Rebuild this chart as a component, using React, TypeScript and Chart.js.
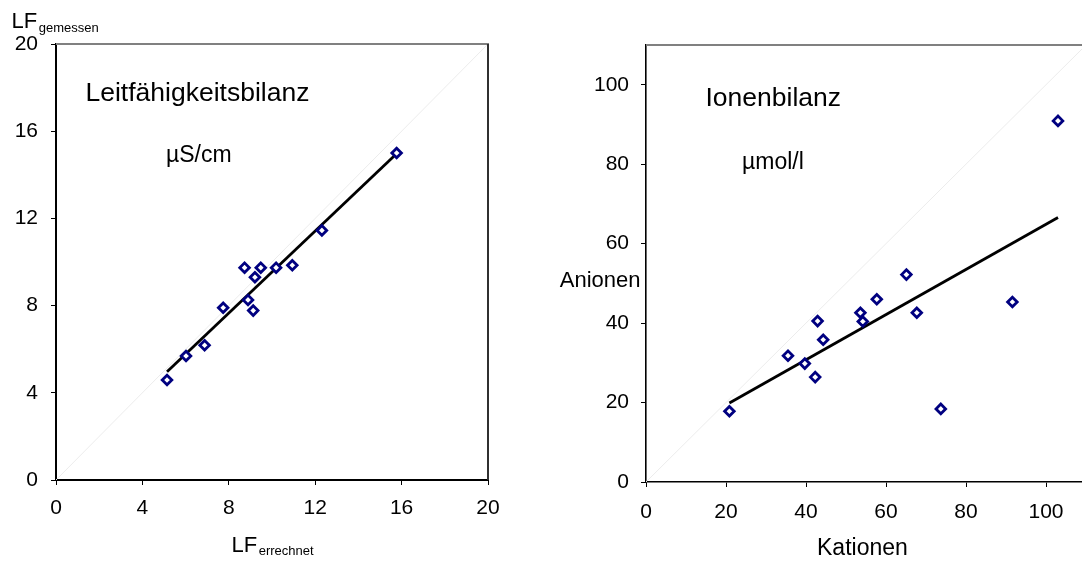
import React, { useEffect, useRef } from 'react';
import { Chart, registerables } from 'chart.js';

Chart.register(...registerables);

// ---- Left chart: Leitfähigkeitsbilanz (µS/cm) ----
const lfErrechnet = [5.14, 6.02, 6.88, 7.74, 8.89, 9.13, 9.21, 8.73, 9.48, 10.19, 10.94, 12.31, 15.77];
const lfGemessen = [4.59, 5.69, 6.18, 7.9, 8.26, 7.77, 9.3, 9.74, 9.74, 9.74, 9.85, 11.45, 15.0];
const lfTrendX = [5.14, 15.74];
const lfTrendY = [4.97, 14.94];
const lfDiagonal = [0, 20];

// ---- Right chart: Ionenbilanz (µmol/l) ----
const kationen = [20.85, 35.5, 39.7, 42.3, 42.9, 44.3, 53.6, 54.2, 57.7, 65.1, 67.7, 73.7, 91.6, 103.0];
const anionen = [17.8, 31.8, 29.8, 26.4, 40.5, 35.8, 42.6, 40.4, 46.0, 52.2, 42.6, 18.4, 45.3, 90.9];
const ionTrendX = [20.85, 103.0];
const ionTrendY = [19.9, 66.6];
const ionDiagonal = [0, 110];

const FONT = "'Liberation Sans', Arial, sans-serif";
const NAVY = '#000080';

type TextItem = {
  text: string;
  sub?: string;
  x: number;
  y: number;
  size: number;
  subSize?: number;
  subDy?: number;
  align?: CanvasTextAlign;
};

const toPts = (xs: number[], ys: number[]) => xs.map((x, i) => ({ x, y: ys[i] }));

function makeDecor(id: string, items: TextItem[], rightBorder: boolean) {
  return {
    id,
    afterDraw(chart: any) {
      const { ctx, chartArea: a } = chart;
      ctx.save();
      ctx.strokeStyle = '#808080';
      ctx.lineWidth = 2;
      ctx.beginPath();
      ctx.moveTo(a.left, a.top);
      ctx.lineTo(a.right + (rightBorder ? 1 : 0), a.top);
      ctx.stroke();
      if (rightBorder) {
        ctx.strokeStyle = '#303030';
        ctx.beginPath();
        ctx.moveTo(a.right, a.top);
        ctx.lineTo(a.right, a.bottom);
        ctx.stroke();
      }
      ctx.fillStyle = '#000';
      ctx.textBaseline = 'alphabetic';
      for (const it of items) {
        ctx.font = `${it.size}px ${FONT}`;
        ctx.textAlign = it.align || 'left';
        ctx.fillText(it.text, it.x, it.y);
        if (it.sub) {
          const w = ctx.measureText(it.text).width;
          ctx.font = `${it.subSize || 13}px ${FONT}`;
          ctx.textAlign = 'left';
          ctx.fillText(it.sub, it.x + w + 1.5, it.y + (it.subDy ?? 3));
        }
      }
      ctx.restore();
    },
  };
}

function axisCommon(min: number, max: number, step: number, fix: (s: any) => void, lineW: number, pad: number) {
  return {
    type: 'linear' as const,
    min,
    max,
    afterFit: fix,
    grid: {
      display: true,
      drawOnChartArea: false,
      drawTicks: true,
      tickLength: 5,
      color: '#000',
      lineWidth: 1,
    },
    border: { display: true, color: '#000', width: lineW },
    ticks: {
      stepSize: step,
      includeBounds: false,
      color: '#000',
      font: { family: FONT, size: 21 },
      padding: pad,
      maxRotation: 0,
    },
  };
}

function buildConfig(opts: {
  pts: { x: number; y: number }[];
  trend: { x: number; y: number }[];
  diag: { x: number; y: number }[];
  xMax: number;
  yMax: number;
  xStep: number;
  yStep: number;
  yAxisWidth: number;
  xAxisHeight: number;
  padding: { top: number; right: number; left: number; bottom: number };
  decor: any;
  lineW: number;
  yPad: number;
  xPad: number;
}): any {
  return {
    type: 'scatter',
    data: {
      datasets: [
        {
          data: opts.pts,
          pointStyle: 'rectRot',
          pointRadius: 4.8,
          pointBorderWidth: 2.8,
          pointBorderColor: NAVY,
          pointBackgroundColor: '#fff',
          showLine: false,
        },
        {
          data: opts.trend,
          showLine: true,
          borderColor: '#000',
          borderWidth: 2.8,
          pointRadius: 0,
        },
        {
          data: opts.diag,
          showLine: true,
          borderColor: '#ececec',
          borderWidth: 1,
          pointRadius: 0,
        },
      ],
    },
    options: {
      responsive: false,
      animation: false,
      events: [],
      layout: { padding: opts.padding },
      plugins: {
        legend: { display: false },
        tooltip: { enabled: false },
        title: { display: false },
      },
      scales: {
        x: {
          ...axisCommon(0, opts.xMax, opts.xStep, (s: any) => { s.height = opts.xAxisHeight; }, opts.lineW, opts.xPad),
          position: 'bottom',
        },
        y: {
          ...axisCommon(0, opts.yMax, opts.yStep, (s: any) => { s.width = opts.yAxisWidth; }, opts.lineW, opts.yPad),
          position: 'left',
        },
      },
    },
    plugins: [opts.decor],
  };
}

export default function App() {
  const leftRef = useRef<HTMLCanvasElement | null>(null);
  const rightRef = useRef<HTMLCanvasElement | null>(null);

  useEffect(() => {
    const leftDecor = makeDecor(
      'leftDecor',
      [
        { text: 'LF', sub: 'gemessen', x: 11.5, y: 28.3, size: 22, subSize: 13, subDy: 3.5 },
        { text: 'LF', sub: 'errechnet', x: 231.5, y: 551.7, size: 22, subSize: 13, subDy: 2.8 },
        { text: 'Leitfähigkeitsbilanz', x: 85.5, y: 101, size: 26.5 },
        { text: 'µS/cm', x: 166, y: 162.3, size: 23 },
      ],
      true
    );
    const rightDecor = makeDecor(
      'rightDecor',
      [
        { text: 'Ionenbilanz', x: 165.5, y: 106, size: 26.5 },
        { text: 'µmol/l', x: 202, y: 169, size: 23 },
        { text: 'Anionen', x: 100.5, y: 286.7, size: 22, align: 'right' },
        { text: 'Kationen', x: 277, y: 555, size: 23 },
      ],
      false
    );

    const left = new Chart(
      leftRef.current as HTMLCanvasElement,
      buildConfig({
        pts: toPts(lfErrechnet, lfGemessen),
        trend: toPts(lfTrendX, lfTrendY),
        diag: toPts(lfDiagonal, lfDiagonal),
        xMax: 20,
        yMax: 20,
        xStep: 4,
        yStep: 4,
        yAxisWidth: 56,
        xAxisHeight: 83,
        padding: { top: 44, right: 52, left: 0, bottom: 0 },
        decor: leftDecor,
        lineW: 2,
        yPad: 13,
        xPad: 11,
      })
    );
    const right = new Chart(
      rightRef.current as HTMLCanvasElement,
      buildConfig({
        pts: toPts(kationen, anionen),
        trend: toPts(ionTrendX, ionTrendY),
        diag: toPts(ionDiagonal, ionDiagonal),
        xMax: 110,
        yMax: 110,
        xStep: 20,
        yStep: 20,
        yAxisWidth: 106,
        xAxisHeight: 81,
        padding: { top: 45, right: 54, left: 0, bottom: 0 },
        decor: rightDecor,
        lineW: 1.6,
        yPad: 12,
        xPad: 13,
      })
    );
    return () => {
      left.destroy();
      right.destroy();
    };
  }, []);

  return (
    <div
      style={{
        position: 'fixed',
        left: 0,
        top: 0,
        width: 1082,
        height: 563,
        overflow: 'hidden',
        background: '#fff',
      }}
    >
      <canvas
        ref={leftRef}
        width={540}
        height={563}
        style={{ position: 'absolute', left: 0, top: 0, width: 540, height: 563 }}
      />
      <canvas
        ref={rightRef}
        width={600}
        height={563}
        style={{ position: 'absolute', left: 540, top: 0, width: 600, height: 563 }}
      />
    </div>
  );
}
